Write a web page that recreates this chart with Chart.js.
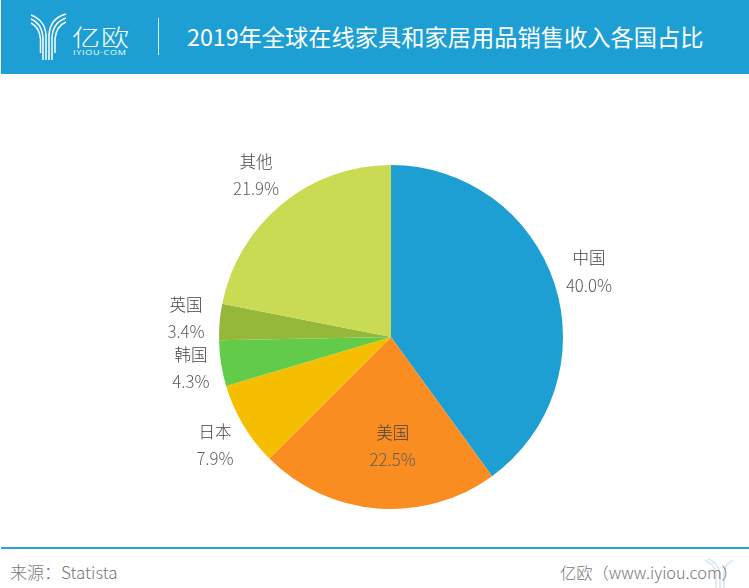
<!DOCTYPE html>
<html lang="zh"><head><meta charset="utf-8">
<script src="https://cdn.jsdelivr.net/npm/chart.js@4"></script>
<style>
html,body{margin:0;padding:0;background:#fff}
#page{position:relative;width:749px;height:588px;overflow:hidden;font-family:"Noto Sans CJK SC","Noto Sans",sans-serif;font-weight:300}
#head{position:absolute;left:1px;top:0;width:748px;height:74px;background:#1d9fd4}
#title{position:absolute;left:186px;top:18px;font-size:23.25px;line-height:36px;color:#fff;white-space:nowrap;font-weight:400}
#brand{position:absolute;left:71px;top:18px;width:58px;font-size:28px;line-height:36px;color:#fff;letter-spacing:1px;white-space:nowrap;transform:scaleY(.8)}
#sub{position:absolute;left:72px;top:47px;font:9px/11px "Open Sans",sans-serif;color:#fff;letter-spacing:.75px;white-space:nowrap;transform:scaleY(.8)}
#div{position:absolute;left:157px;top:18px;width:1px;height:37px;background:#dff1f9}
#logo{position:absolute;left:29px;top:13px}
#wrap{position:absolute;left:0;top:74px;width:749px;height:460px}
#rule{position:absolute;left:1px;top:547px;width:748px;height:2px;background:#2aa3d6}
#src,#own{position:absolute;top:559px;line-height:26px;color:#777;white-space:nowrap}
#src{left:10px;font-size:17px}#own{left:560px;font-size:16.3px}
#mark{position:absolute;left:703px;top:558px;opacity:.13}
</style></head><body>
<div id="page">
<div id="head">
<svg id="logo" width="38" height="48" viewBox="0 0 38 48" fill="none" stroke="#fff" stroke-width="1.5">
<path d="M1 2C6 4 15 8 16 22V47"/><path d="M1 6C6 8 12 12 13 24V47"/><path d="M1 10C5 12 9.500 16 10.500 26V40"/>
<path d="M36 1C28 3 20 8 19 22V47"/><path d="M36 5C30 7 23 12 22 24V47"/><path d="M36 9C31 11 26 16 25 26V40"/>
</svg>
<div id="brand">亿欧</div><div id="sub">IYIOU·COM</div><div id="div"></div>
<div id="title">2019年全球在线家具和家居用品销售收入各国占比</div>
</div>
<div id="wrap"><canvas id="c"></canvas></div>
<div id="rule"></div>
<div id="src">来源：Statista</div>
<div id="own">亿欧（www.iyiou.com）</div>
<svg id="mark" width="40" height="30" viewBox="0 0 40 30" fill="none" stroke="#1d6f99" stroke-width="2"><path d="M2 2C8 6 13 9 13 18V30M5 0C10 4 17 7 17 18V30M30 2C24 6 21 9 21 18V30"/></svg>
</div>
<script>
const categories = ["中国","美国","日本","韩国","英国","其他"];
const shares = [40.0,22.5,7.9,4.3,3.4,21.9];
const sliceColors = ["#1d9fd4","#f98d22","#f6be00","#62cc4a","#96b83a","#c8db52"];
const labelRadius = [1.213,0.63,1.2,1.177,1.197,1.228];
const labelTurn = [-0.4,-5.4,-0.7,0,0.3,-0.3];
const labelPlugin = {
  id:"sliceLabels",
  afterDatasetsDraw(chart){
    const ctx = chart.ctx, arcs = chart.getDatasetMeta(0).data;
    ctx.save();
    ctx.textAlign = "center"; ctx.textBaseline = "middle";
    arcs.forEach((a,i)=>{
      const mid = (a.startAngle+a.endAngle)/2 + labelTurn[i]*Math.PI/180, r = a.outerRadius*labelRadius[i];
      const x = a.x+Math.cos(mid)*r, y = a.y+Math.sin(mid)*r;
      ctx.fillStyle = "#444";
      ctx.font = '300 16.5px "Noto Sans CJK SC",sans-serif';
      ctx.fillText(categories[i],x,y-13);
      ctx.font = '300 16.8px "Noto Sans CJK SC",sans-serif';
      ctx.fillStyle = "#5c5c5c";
      ctx.fillText(shares[i].toFixed(1)+"%",x,y+14);
    });
    ctx.restore();
  }
};
new Chart(document.getElementById("c"),{
  type:"pie",
  data:{labels:categories,datasets:[{data:shares,backgroundColor:sliceColors,borderWidth:0}]},
  options:{responsive:true,maintainAspectRatio:false,animation:false,
    layout:{padding:{left:219,right:186,top:91,bottom:25}},
    plugins:{legend:{display:false},tooltip:{enabled:false}}},
  plugins:[labelPlugin]
});
</script>
</body></html>
